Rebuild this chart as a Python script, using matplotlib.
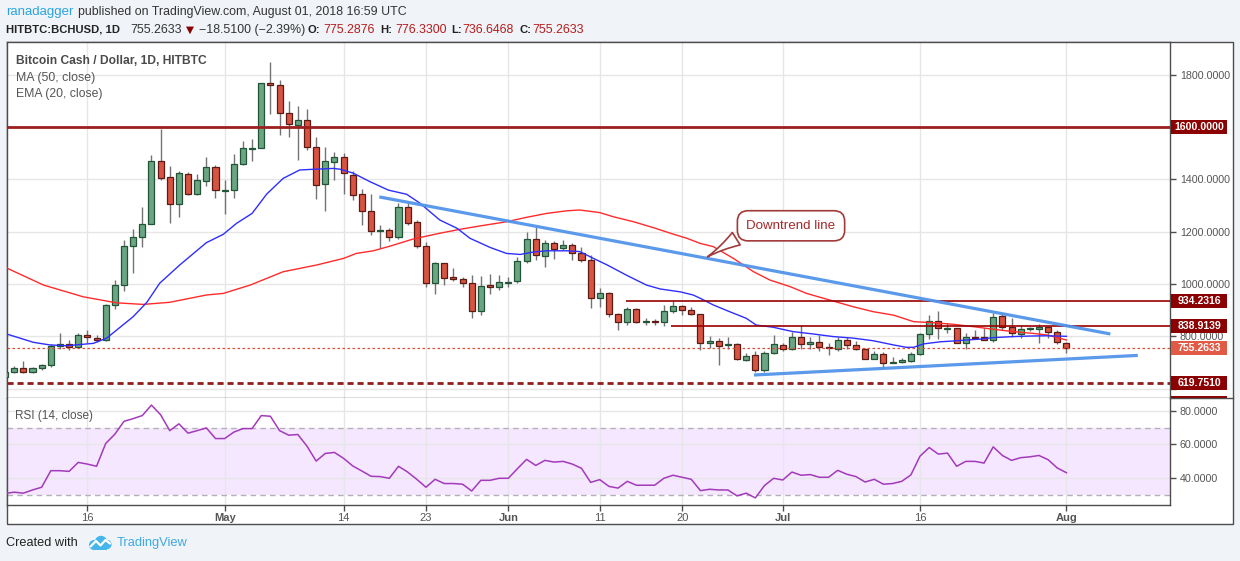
import numpy as np
import pandas as pd
import matplotlib
matplotlib.use("Agg")
import matplotlib.pyplot as plt
from matplotlib.patches import Rectangle, Circle
from matplotlib.transforms import blended_transform_factory
from matplotlib.lines import Line2D

plt.rcParams['font.family'] = ['Liberation Sans', 'DejaVu Sans']

# ---------------- data ----------------
dates = pd.date_range("2018-04-07", "2018-08-01", freq="D")
ref_day = pd.Timestamp("2018-04-16")

opens = [645, 665, 677, 665, 677, 689, 764, 769, 759, 804, 793, 785, 920, 995, 1144, 1179, 1228, 1469, 1410, 1305,
         1422, 1345, 1393, 1446,
         1354, 1358, 1458, 1518, 1519, 1767, 1760, 1653, 1607, 1626, 1524, 1381, 1465, 1484, 1416, 1343, 1278, 1203,
         1205, 1179, 1293, 1236, 1144, 1003, 1079, 1026, 1018, 1003, 896, 995, 987,
         1005, 1010, 1087, 1171, 1107, 1156, 1137, 1148, 1117, 1091, 945, 964, 884, 854, 903, 855, 857, 854, 895, 915,
         899, 884, 773, 781, 766, 769, 709, 727, 671, 735,
         766, 753, 796, 769, 777, 760, 753, 787, 766, 750, 715, 731, 699, 701, 707, 731, 808, 860, 829, 830, 773, 797,
         796, 786, 876, 834, 809, 828, 827, 834, 817,
         775.2876]
highs = [668, 686, 705, 683, 693, 769, 811, 784, 811, 824, 804, 923, 1015, 1168, 1209, 1293, 1492, 1593, 1451, 1432,
         1430, 1422, 1486, 1455,
         1397, 1496, 1545, 1553, 1770, 1849, 1780, 1700, 1681, 1669, 1561, 1524, 1505, 1500, 1432, 1363, 1343, 1226,
         1213, 1311, 1309, 1245, 1159, 1084, 1079, 1060, 1026, 1033, 1030, 1037, 1033,
         1026, 1104, 1199, 1219, 1168, 1163, 1168, 1156, 1140, 1111, 986, 968, 888, 911, 907, 871, 868, 918, 936, 918,
         911, 884, 801, 794, 797, 773, 738, 742, 742, 805,
         773, 818, 842, 797, 805, 773, 797, 797, 783, 754, 743, 739, 719, 716, 739, 814, 881, 897, 849, 830, 811, 826,
         830, 888, 888, 869, 842, 834, 846, 838, 823,
         776.33]
lows = [633, 661, 659, 659, 671, 681, 750, 746, 755, 773, 778, 781, 903, 972, 1041, 1140, 1228, 1398, 1234, 1255,
        1340, 1340, 1375, 1330,
        1266, 1330, 1455, 1470, 1519, 1649, 1571, 1561, 1473, 1512, 1326, 1280, 1398, 1345, 1322, 1226, 1187, 1136,
        1163, 1172, 1226, 1136, 990, 963, 995, 1010, 990, 870, 881, 963, 976,
        987, 1003, 1079, 1091, 1066, 1096, 1129, 1091, 1083, 910, 912, 873, 825, 842, 850, 842, 845, 838, 888, 880,
        880, 748, 756, 690, 751, 708, 706, 664, 664, 732,
        742, 748, 753, 753, 742, 727, 742, 750, 748, 712, 712, 678, 697, 697, 702, 727, 791, 791, 811, 773, 752, 792,
        784, 780, 826, 796, 795, 822, 773, 795, 770,
        736.6468]
closes = [662, 677, 665, 677, 689, 764, 771, 759, 804, 796, 785, 920, 995, 1144, 1179, 1228, 1469, 1407, 1305, 1426,
          1345, 1397, 1446, 1359,
          1358, 1458, 1519, 1521, 1767, 1760, 1653, 1611, 1626, 1524, 1377, 1469, 1484, 1423, 1339, 1280, 1201, 1207,
          1179, 1293, 1232, 1144, 1003, 1079, 1022, 1018, 1003, 896, 991, 987, 1006,
          1008, 1087, 1171, 1110, 1156, 1133, 1148, 1117, 1091, 945, 964, 884, 854, 903, 854, 858, 854, 895, 915, 899,
          884, 776, 781, 764, 769, 712, 726, 671, 735, 769,
          753, 796, 769, 777, 760, 756, 787, 766, 750, 715, 732, 697, 702, 710, 731, 808, 857, 830, 831, 773, 796, 795,
          787, 873, 834, 811, 827, 830, 834, 817, 777,
          755.2633]

rsi = [31.0, 31.8, 31.2, 33.1, 34.7, 44.5, 44.5, 44.1, 49.4, 48.4, 47.1, 60.6, 66.1, 73.7, 75.3, 77.1, 83.3, 77.6,
       68.2, 72.2, 66.7, 68.2, 69.8, 63.5,
       63.5, 67.3, 69.4, 69.4, 77.1, 76.7, 68.2, 65.5, 65.9, 59.0, 50.2, 54.7, 55.3, 51.8, 47.3, 44.3, 41.2, 41.0,
       40.0, 47.1, 43.7, 39.4, 34.7, 39.4, 36.9, 36.9, 36.5, 32.5, 38.8, 38.8, 40.0,
       40.0, 45.7, 51.2, 47.6, 50.6, 49.6, 50.0, 48.4, 45.9, 37.6, 39.2, 35.2, 34.2, 38.2, 35.9, 35.9, 35.9, 40.0,
       41.8, 40.6, 39.4, 32.7, 33.5, 33.1, 33.1, 29.6, 31.2, 28.4, 35.7, 40.0,
       39.0, 43.7, 41.8, 42.2, 40.6, 40.6, 44.7, 42.4, 41.0, 37.8, 39.4, 36.5, 36.9, 38.2, 42.0, 53.1, 58.2, 54.3,
       54.9, 47.1, 50.0, 50.0, 49.0, 58.6, 53.5, 50.6, 52.2, 52.7, 53.5, 51.0, 46.1,
       43.3]

# MA(50) and EMA(20) (days after 2018-04-16, value)
ma50_t = [-8.75, -4.8, -0.45, 3.2, 6.1, 9.0, 13.0, 14.85, 17.8, 21.4, 25.1, 28.0, 29.4, 31.25, 33.1, 35.6, 38.5,
          40.7, 42.9, 45.8, 48.0, 50.2, 52.4, 53.8, 56.0, 57.5, 59.7, 61.9, 64.0, 65.5, 67.0, 68.4, 70.6, 72.8,
          74.6, 76.8, 78.6, 81.1, 83.7, 85.9, 88.1, 90.3, 92.5, 94.6, 96.8, 99.0, 101.2, 103.4, 104.9, 106.3, 107.0]
ma50_v = [1060, 996, 951, 928, 922, 930, 958, 964, 996, 1047, 1073, 1098, 1117, 1127, 1145, 1172, 1194,
          1209, 1222, 1238, 1255, 1270, 1280, 1283, 1273, 1257, 1238, 1215, 1191, 1175, 1155, 1143, 1098, 1047,
          1015, 990, 964, 939, 913, 894, 881, 856, 852, 846, 837, 827, 818, 811, 805, 792, 786]
ema20_t = [-8.75, -5.9, -4.1, -2.3, 0.65, 2.1, 3.2, 5.0, 6.5, 7.9, 10.1, 13.0, 14.85, 16.3, 18.0, 19.6, 21.4, 23.2,
           24.3, 26.9, 27.6, 29.05, 30.9, 32.9, 34.9, 36.35, 38.5, 40.4, 41.8, 44.0, 45.8, 47.3, 48.7, 50.2, 52.4,
           53.8, 55.3, 56.8, 58.9, 61.1, 62.6, 64.8, 66.2, 67.0, 68.4, 70.2, 72.0, 73.1, 74.9, 77.1, 79.3, 81.5,
           83.7, 85.9, 88.1, 89.5, 90.3, 91.4, 93.2, 94.6, 96.1, 97.5, 99.0, 101.2, 103.0, 104.8, 107.0]
ema20_v = [808, 777, 767, 764, 773, 793, 824, 875, 930, 1003, 1073, 1158, 1190, 1232, 1270, 1344, 1404, 1436,
           1438, 1442, 1439, 1424, 1391, 1359, 1343, 1309, 1245, 1213, 1175, 1140, 1117, 1113, 1122, 1127, 1127,
           1124, 1098, 1073, 1034, 996, 981, 970, 958, 945, 920, 894, 869, 843, 835, 818, 809, 799,
           793, 783, 767, 758, 758, 771, 779, 782, 786, 789, 795, 799, 801, 802, 800]

# drawn levels and trend lines
level_full = [1600.0, 619.751]
level_seg_vals = [934.2316, 838.9139]
level_seg_start = [58.86, 63.8]
last_price = 755.2633
downtrend_t = [31.9, 111.8]
downtrend_v = [1333, 809]
uptrend_t = [72.85, 114.8]
uptrend_v = [652, 727]

price_ticks = [600, 800, 1000, 1200, 1400, 1600, 1800]
hidden_price_labels = {600, 1600}
rsi_ticks = [40, 60, 80]
date_tick_t = [0, 15, 28, 37, 46, 56, 65, 76, 91, 107]
date_tick_lab = ["16", "May", "14", "23", "Jun", "11", "20", "Jul", "16", "Aug"]
month_labels = {"May", "Jun", "Jul", "Aug"}

# ---------------- figure ----------------
W, H = 1240, 561
def fx(px):
    return px / W
def fy(py):
    return 1 - py / H

fig = plt.figure(figsize=(W / 100, H / 100), dpi=100, facecolor='#f0f3f7')
renderer = fig.canvas.get_renderer()
EDGE = '#4d4d4d'
TXT = '#555555'

def fit(txt, target_px):
    w = txt.get_window_extent(renderer=renderer).width
    if w > 0:
        txt.set_fontsize(txt.get_fontsize() * target_px / w)
    return txt

fig.add_artist(Rectangle((fx(7), fy(524)), (1233 - 7) / W, (524 - 42) / H, transform=fig.transFigure,
                         fc='white', ec=EDGE, lw=1, zorder=0))

ax = fig.add_axes([fx(7), fy(398), (1170 - 7) / W, (398 - 42) / H])
axr = fig.add_axes([fx(7), fy(505), (1170 - 7) / W, (505 - 398) / H])
fig.add_artist(Line2D([fx(1170), fx(1233)], [fy(398), fy(398)], transform=fig.transFigure, color=EDGE, lw=1))

t = (dates - ref_day).days.values.astype(float)
O = np.array(opens); Hh = np.array(highs); L = np.array(lows); C = np.array(closes)

XMIN, XMAX = -8.787, 118.32
YMIN, YMAX = 564.1, 1925.4

for a in (ax, axr):
    a.set_xlim(XMIN, XMAX)
    a.set_facecolor('white')
    a.set_axisbelow(True)
    for s in a.spines.values():
        s.set_color(EDGE)
        s.set_linewidth(1)
    a.set_xticks(date_tick_t)
    a.grid(True, color='#e6e6e6', lw=1)
    a.yaxis.tick_right()
    a.tick_params(axis='y', length=4, width=1, color=EDGE, labelsize=7.7, labelcolor=TXT, pad=3)

ax.set_ylim(YMIN, YMAX)
ax.tick_params(axis='x', length=0, labelbottom=False)
ax.set_yticks(price_ticks)
ax.set_yticklabels(["" if v in hidden_price_labels else f"{v:.4f}" for v in price_ticks])

# candles
up = C >= O
wick_col = '#737375'
ax.vlines(t, L, Hh, color=wick_col, lw=1, zorder=3)
bottoms = np.minimum(O, C)
heights = np.maximum(np.abs(C - O), 3.5)
fc = np.where(up, '#6ba583', '#d75442')
ec = np.where(up, '#225437', '#5b1a13')
ax.bar(t, heights, bottom=bottoms, width=0.66, color=fc, edgecolor=ec, linewidth=0.9, zorder=4)

# indicators
ax.plot(ma50_t, ma50_v, color='#ff2b2b', lw=1.0, zorder=5)
ax.plot(ema20_t, ema20_v, color='#2e2eff', lw=1.0, zorder=5)

# levels
ax.axhline(level_full[0], color='#9c2020', lw=2.0, zorder=6)
ax.axhline(level_full[1], color='#8f1d1d', lw=2.0, ls=(0, (2.2, 1.4)), zorder=6)
for v, s in zip(level_seg_vals, level_seg_start):
    ax.hlines(v, s, XMAX, color='#990000', lw=1.2, zorder=6)
ax.axhline(last_price, color='#e24a33', lw=0.9, ls=(0, (2, 2)), zorder=6)

# trend lines
ax.plot(downtrend_t, downtrend_v, color='#5294ea', lw=2.3, alpha=0.95, solid_capstyle='butt', zorder=7)
ax.plot(uptrend_t, uptrend_v, color='#5294ea', lw=2.3, alpha=0.95, solid_capstyle='butt', zorder=7)

# callout
ax.annotate("Downtrend line", xy=(67.5, 1098), xytext=(76.9, 1222.6), textcoords='data',
            ha='center', va='center', fontsize=9.6, color='#a52a2a', zorder=9,
            bbox=dict(boxstyle='round,pad=0.68,rounding_size=0.8', fc='white', ec='#a33a3a', lw=1.2),
            arrowprops=dict(arrowstyle='wedge,tail_width=1.1,shrink_factor=0.35', fc='white',
                            ec='#a33a3a', lw=1.2, relpos=(0.02, 0.05)))

# price-axis label boxes
bt = blended_transform_factory(ax.transAxes, ax.transData)
upx = (YMAX - YMIN) / 356.0
bx0 = (1171 - 7) / 1163.0
bw = 56 / 1163.0
for v, col, txt in [(1600.0, '#8b0000', '1600.0000'), (934.2316, '#8b0000', '934.2316'),
                    (838.9139, '#8b0000', '838.9139'), (619.751, '#8b0000', '619.7510'),
                    (last_price, '#e05a46', '755.2633')]:
    ax.add_patch(Rectangle((bx0, v - 7 * upx), bw, 14 * upx, transform=bt, fc=col, ec='none',
                           clip_on=False, zorder=10))
    ax.text(bx0 + bw / 2, v, txt, transform=bt, ha='center', va='center', color='white',
            fontsize=7.6, fontweight='bold', clip_on=False, zorder=11)
ax.add_patch(Rectangle((bx0, YMIN), bw, 2 * upx, transform=bt, fc='#8b0000', ec='none', clip_on=False, zorder=10))

# RSI pane
axr.set_ylim(24.2, 87.5)
axr.spines['top'].set_visible(False)
axr.axhspan(30, 70, color='#9915ff', alpha=0.1, lw=0, zorder=0.5)
axr.axhline(70, color='#b5b0b8', lw=1, ls=(0, (4, 3)), zorder=1)
axr.axhline(30, color='#b5b0b8', lw=1, ls=(0, (4, 3)), zorder=1)
axr.plot(t, rsi, color='#a33ab9', lw=1.1, zorder=3)
axr.set_yticks(rsi_ticks)
axr.set_yticklabels([f"{v:.4f}" for v in rsi_ticks])
axr.set_xticklabels(date_tick_lab)
axr.tick_params(axis='x', length=4, width=1, color=EDGE, labelsize=8, labelcolor=TXT, pad=2)
for lab in axr.get_xticklabels():
    if lab.get_text() in month_labels:
        lab.set_fontweight('bold')

# header texts
fit(fig.text(fx(6), fy(12), "ranadagger", color='#2aa4e0', fontsize=9, va='center', ha='left'), 68)
pub = fit(fig.text(fx(78), fy(12), "published on TradingView.com, August 01, 2018 16:59 UTC", color='#333333',
                   fontsize=9, va='center', ha='left'), 329)
nfs = pub.get_fontsize()
bold_t = fit(fig.text(fx(6), fy(30), "HITBTC:BCHUSD, 1D", color='#222222', fontsize=9, fontweight='bold',
                      va='center', ha='left'), 115)
bfs = bold_t.get_fontsize()
hdr = [(130, "755.2633", '#333333', 'normal'),
       (199, "\u221218.5100 (\u22122.39%)", '#333333', 'normal'), (308, "O:", '#222222', 'bold'),
       (323, "775.2876", '#b71c1c', 'normal'), (380, "H:", '#222222', 'bold'),
       (395, "776.3300", '#b71c1c', 'normal'), (451, "L:", '#222222', 'bold'),
       (462, "736.6468", '#b71c1c', 'normal'), (519, "C:", '#222222', 'bold'),
       (532, "755.2633", '#b71c1c', 'normal')]
for xp, s, c, w in hdr:
    fig.text(fx(xp), fy(30), s, color=c, fontsize=(bfs if w == 'bold' else nfs), fontweight=w,
             va='center', ha='left')
fig.text(fx(186), fy(30), "\u25bc", color='#8b0000', fontsize=7.5, va='center', ha='left',
         family=['DejaVu Sans'])

fit(fig.text(fx(15.5), fy(60.5), "Bitcoin Cash / Dollar, 1D, HITBTC", color='#4a4a4a', fontsize=9,
             fontweight='bold', va='center', ha='left'), 190)
fit(fig.text(fx(15.5), fy(77.5), "MA (50, close)", color=TXT, fontsize=9, va='center', ha='left'), 79)
fit(fig.text(fx(15.5), fy(94.5), "EMA (20, close)", color=TXT, fontsize=9, va='center', ha='left'), 86)
fit(fig.text(fx(15), fy(416), "RSI (14, close)", color=TXT, fontsize=9, va='center', ha='left'), 78)

fit(fig.text(fx(6), fy(543), "Created with", color='#222222', fontsize=9.6, va='center', ha='left'), 72)
fit(fig.text(fx(117), fy(543), "TradingView", color='#3fa9e0', fontsize=9.6, va='center', ha='left'), 71.5)

# logo
lg = fig.add_axes([fx(88), fy(551), 24 / W, 16 / H])
lg.set_xlim(0, 24); lg.set_ylim(0, 16); lg.axis('off')
cl = '#45b5ea'
for cx, cy, r in [(6, 6, 5), (13, 9, 6.2), (19, 6.5, 4.6)]:
    lg.add_patch(Circle((cx, cy), r, fc=cl, ec='none'))
lg.add_patch(Rectangle((6, 1), 13, 5, fc=cl, ec='none'))
lg.plot([2.5, 8, 12.5, 17.5, 22], [4.5, 10, 5.5, 11, 7.5], color='white', lw=1.6, solid_capstyle='round')

fig.savefig("out.png", dpi=100, facecolor=fig.get_facecolor())
